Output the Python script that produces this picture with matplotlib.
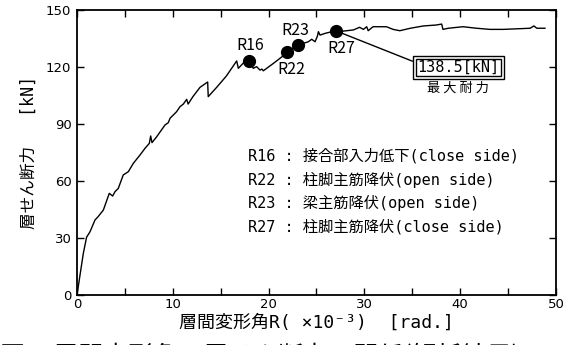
import matplotlib
matplotlib.use("Agg")
import matplotlib.pyplot as plt
from matplotlib.ticker import MultipleLocator

# story drift angle (x10^-3 rad) and story shear (kN)
drift = [0, 0.66, 1.0, 1.36, 1.88, 2.2, 2.75, 3.37, 3.72, 3.97, 4.31, 4.83,
         5.36, 5.88, 6.58, 7.1, 7.55, 7.69, 7.83, 8.32, 9.19, 9.53, 9.71,
         10.4, 10.75, 11.1, 11.45, 11.6, 12.1, 12.84, 13.64, 13.7, 14.58,
         15.6, 16.67, 16.84, 17.5, 18.0, 18.4, 18.75, 19.1, 19.3, 19.45,
         20.5, 21.4, 21.9, 23.1, 24.15, 24.5, 24.85, 25.1, 25.2, 25.37, 25.9,
         27.0, 27.8, 28.85, 29.5, 29.9, 30.24, 30.4, 30.9, 32.3, 33.0, 33.7,
         34.8, 36.15, 37.5, 38.07, 38.2, 38.76, 40.3, 41.7, 43.1, 44.5, 47.3,
         47.7, 48.0, 48.85]
shear = [0, 21.9, 30.4, 33.3, 39.5, 41.2, 44.7, 53.5, 52.1, 54.4, 56.1, 63.2,
         64.9, 69.3, 73.7, 77.2, 79.8, 83.7, 80.2, 83.3, 89.5, 90.7, 93.0,
         96.5, 99.1, 100.5, 103.0, 100.5, 104.4, 109.3, 112.1, 104.4, 109.3,
         115.3, 123.2, 119.3, 122.8, 123.0, 119.3, 120.2, 118.4, 118.9, 118.0,
         121.9, 125.4, 128.0, 131.6, 133.3, 134.6, 133.3, 136.3, 138.6, 136.8,
         137.7, 139.1, 138.9, 139.5, 140.9, 139.8, 141.2, 139.1, 141.2, 141.2,
         139.8, 139.1, 140.4, 141.6, 142.1, 142.6, 139.8, 140.4, 141.2, 140.4,
         139.8, 139.8, 140.4, 141.6, 140.4, 140.4]

event_names = ["R16", "R22", "R23", "R27"]
event_x = [18.0, 21.9, 23.1, 27.0]
event_y = [123.0, 128.0, 131.6, 139.1]

event_notes = [
    "R16 : 接合部入力低下(close side)",
    "R22 : 柱脚主筋降伏(open side)",
    "R23 : 梁主筋降伏(open side)",
    "R27 : 柱脚主筋降伏(close side)",
]

max_strength = 138.5

jp = ["Noto Sans CJK JP", "DejaVu Sans"]
jp_mono = ["DejaVu Sans Mono", "Noto Sans CJK JP"]

fig = plt.figure(figsize=(5.72, 3.45), dpi=100)
ax = fig.add_axes([0.1346, 0.1449, 0.8374, 0.8261])

ax.plot(drift, shear, color="black", lw=1.0)
ax.plot(event_x, event_y, "o", color="black", ms=8.5, zorder=3)

# marker labels
label_pos = {"R16": (18.1, 131.3), "R22": (22.4, 118.8),
             "R23": (22.75, 139.2), "R27": (27.55, 129.6)}
for name in event_names:
    lx, ly = label_pos[name]
    ax.text(lx, ly, name, family=jp, fontsize=11.5, ha="center", va="center")

# max strength box with double frame
peak_i = event_names.index("R27")
box_txt = f"{max_strength}[kN]"
ax.annotate(box_txt, xy=(event_x[peak_i], event_y[peak_i]),
            xytext=(39.8, 119.7), ha="center", va="center",
            family=jp_mono, fontsize=11, color="none",
            bbox=dict(boxstyle="square,pad=0.28", fc="white", ec="black", lw=1.0),
            arrowprops=dict(arrowstyle="-", color="black", lw=1.0,
                            relpos=(0, 0.8), shrinkA=0, shrinkB=0))
ax.text(39.8, 119.7, box_txt, ha="center", va="center",
        family=jp_mono, fontsize=11,
        bbox=dict(boxstyle="square,pad=0.08", fc="white", ec="black", lw=1.0))
ax.text(39.8, 108.8, "最 大 耐 力", ha="center", va="center",
        family=jp, fontsize=9.5)

# notes
for i, note in enumerate(event_notes):
    ax.text(17.9, 73.2 - i * 12.5, note, ha="left", va="center",
            family=jp_mono, fontsize=11)

ax.set_xlim(0, 50)
ax.set_ylim(0, 150)
ax.xaxis.set_major_locator(MultipleLocator(10))
ax.xaxis.set_minor_locator(MultipleLocator(5))
ax.yaxis.set_major_locator(MultipleLocator(30))
ax.tick_params(which="both", direction="in", top=True, right=True,
               length=5, width=1.0, labelsize=9.5)
ax.tick_params(axis="x", pad=2)
ax.tick_params(axis="y", pad=4)
for s in ax.spines.values():
    s.set_linewidth(1.3)

ax.set_ylabel("層せん断力   [kN]", family=jp_mono, fontsize=12, labelpad=6)
ax.set_xlabel("層間変形角R( ×10⁻³)  [rad.]", family=jp_mono, fontsize=13,
              labelpad=2)

# figure caption, mostly cut off at the bottom edge as in the source
fig.text(0.0, 0.004, "図-5 層間変形角と層せん断力の関係(解析結果)", family=jp,
         fontsize=18, ha="left", va="top")

fig.savefig("out.png", dpi=100)
